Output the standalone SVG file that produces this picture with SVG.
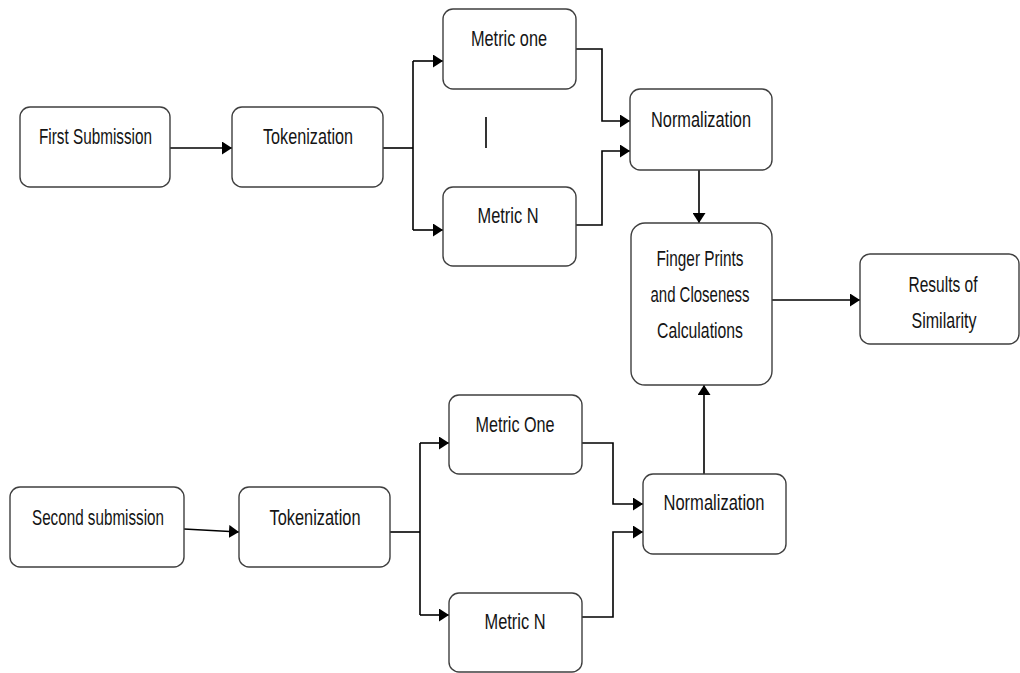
<svg xmlns="http://www.w3.org/2000/svg" width="1020" height="673" viewBox="0 0 1020 673">
<style>
.box{fill:#fff;stroke:#3f3f3f;stroke-width:1.4}
.lbl{font-family:"Liberation Sans",Arial,sans-serif;font-size:22px;fill:#141414;text-anchor:middle}
.con{fill:none;stroke:#000;stroke-width:1.6}
</style>
<defs>
<marker id="ah" markerUnits="userSpaceOnUse" markerWidth="11" markerHeight="13" refX="10" refY="6.5" orient="auto">
<path d="M0,0 L10,6.5 L0,13 z" fill="#000"/>
</marker>
</defs>
<rect width="1020" height="673" fill="#fff"/>
<g id="connectors">
<line class="con" x1="170" y1="148" x2="232" y2="148" marker-end="url(#ah)"/>
<polyline class="con" points="383,148 413,148"/>
<polyline class="con" points="413,61 413,230"/>
<line class="con" x1="413" y1="61" x2="443" y2="61" marker-end="url(#ah)"/>
<line class="con" x1="413" y1="230" x2="443" y2="230" marker-end="url(#ah)"/>
<polyline class="con" points="576,49 602,49 602,121 630,121" marker-end="url(#ah)"/>
<polyline class="con" points="576,225 602,225 602,151 630,151" marker-end="url(#ah)"/>
<line class="con" x1="699" y1="170" x2="699" y2="223" marker-end="url(#ah)"/>
<line class="con" x1="772" y1="300" x2="860" y2="300" marker-end="url(#ah)"/>
<line class="con" x1="184" y1="529" x2="239" y2="532" marker-end="url(#ah)"/>
<polyline class="con" points="390,532 420,532"/>
<polyline class="con" points="420,443 420,615"/>
<line class="con" x1="420" y1="443" x2="449" y2="443" marker-end="url(#ah)"/>
<line class="con" x1="420" y1="615" x2="449" y2="615" marker-end="url(#ah)"/>
<polyline class="con" points="582,443 613,443 613,504 643,504" marker-end="url(#ah)"/>
<polyline class="con" points="582,617 613,617 613,532 643,532" marker-end="url(#ah)"/>
<line class="con" x1="704" y1="474" x2="704" y2="385" marker-end="url(#ah)"/>
<line class="con" x1="486" y1="117" x2="486" y2="148"/>
</g>
<g id="first-submission"><rect class="box" x="20" y="107" width="150" height="80" rx="10"/><text class="lbl" x="95.5" y="144" textLength="113" lengthAdjust="spacingAndGlyphs">First Submission</text></g>
<g id="tokenization-1"><rect class="box" x="232" y="107" width="151" height="80" rx="10"/><text class="lbl" x="308" y="144" textLength="90" lengthAdjust="spacingAndGlyphs">Tokenization</text></g>
<g id="metric-one-1"><rect class="box" x="443" y="9" width="133" height="80" rx="10"/><text class="lbl" x="509" y="46" textLength="76" lengthAdjust="spacingAndGlyphs">Metric one</text></g>
<g id="metric-n-1"><rect class="box" x="443" y="187" width="133" height="79" rx="10"/><text class="lbl" x="508" y="223" textLength="61" lengthAdjust="spacingAndGlyphs">Metric N</text></g>
<g id="normalization-1"><rect class="box" x="630" y="89" width="142" height="81" rx="10"/><text class="lbl" x="701" y="127" textLength="100" lengthAdjust="spacingAndGlyphs">Normalization</text></g>
<g id="fingerprints"><rect class="box" x="631" y="223" width="141" height="162" rx="14"/>
<text class="lbl" x="700" y="266" textLength="87" lengthAdjust="spacingAndGlyphs">Finger Prints</text>
<text class="lbl" x="700" y="302" textLength="99" lengthAdjust="spacingAndGlyphs">and Closeness</text>
<text class="lbl" x="700" y="338" textLength="86" lengthAdjust="spacingAndGlyphs">Calculations</text></g>
<g id="results"><rect class="box" x="860" y="254" width="159" height="90" rx="10"/>
<text class="lbl" x="943" y="292" textLength="69" lengthAdjust="spacingAndGlyphs">Results of</text>
<text class="lbl" x="944" y="328" textLength="65" lengthAdjust="spacingAndGlyphs">Similarity</text></g>
<g id="second-submission"><rect class="box" x="10" y="487" width="174" height="80" rx="10"/><text class="lbl" x="98" y="525" textLength="132" lengthAdjust="spacingAndGlyphs">Second submission</text></g>
<g id="tokenization-2"><rect class="box" x="239" y="487" width="151" height="80" rx="10"/><text class="lbl" x="315" y="525" textLength="91" lengthAdjust="spacingAndGlyphs">Tokenization</text></g>
<g id="metric-one-2"><rect class="box" x="449" y="395" width="133" height="79" rx="10"/><text class="lbl" x="515" y="432" textLength="79" lengthAdjust="spacingAndGlyphs">Metric One</text></g>
<g id="metric-n-2"><rect class="box" x="449" y="593" width="133" height="79" rx="10"/><text class="lbl" x="515" y="629" textLength="61" lengthAdjust="spacingAndGlyphs">Metric N</text></g>
<g id="normalization-2"><rect class="box" x="643" y="474" width="143" height="80" rx="10"/><text class="lbl" x="714" y="510" textLength="101" lengthAdjust="spacingAndGlyphs">Normalization</text></g>
</svg>
